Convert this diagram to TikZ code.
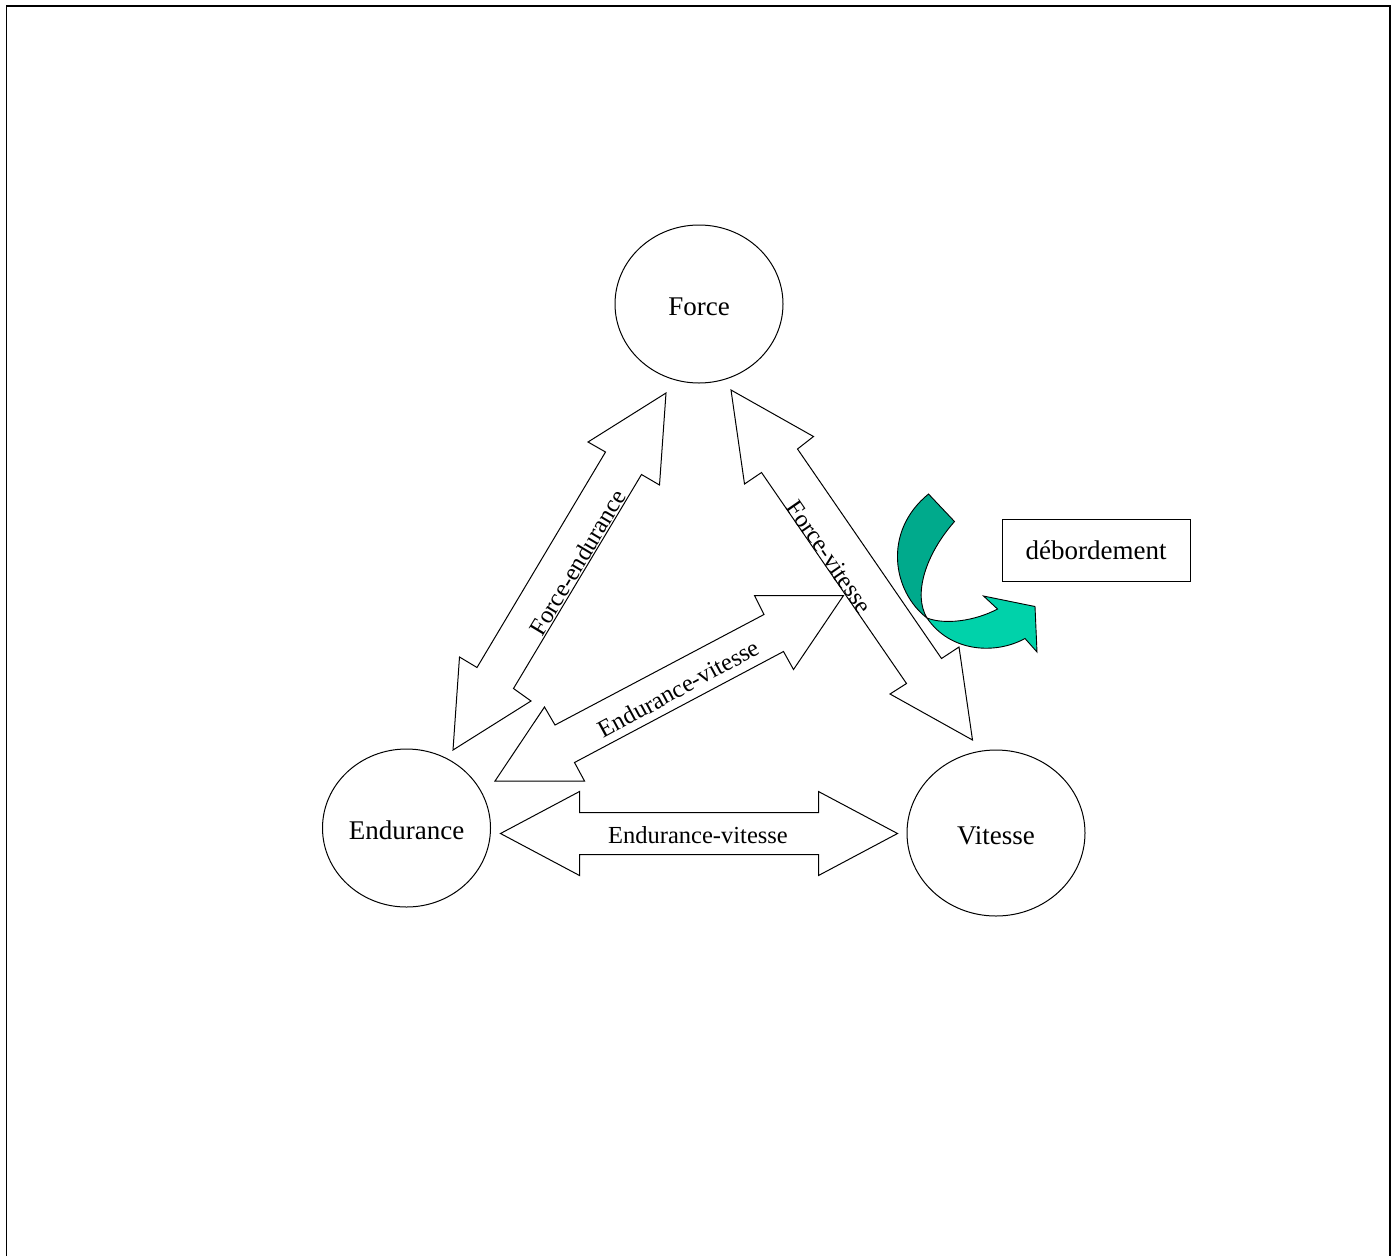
\documentclass[tikz,border=0pt]{standalone}
\usepackage{fontspec}
\setmainfont{Liberation Serif}
\usetikzlibrary{shapes.geometric}
\newcommand\lblfont{\fontsize{27}{32}\selectfont}
\newcommand\tagfont{\fontsize{24.5}{29}\selectfont}
\definecolor{ribbondark}{RGB}{0,170,140}
\definecolor{ribbonlight}{RGB}{0,210,170}
\begin{document}
\begin{tikzpicture}[x=1pt,y=-1pt,
  blockarrow/.style={draw=black, fill=white, line width=1pt, line join=miter},
  bubble/.style={ellipse, draw, line width=1pt, inner sep=0pt, font=\lblfont,
                 text height=22pt, text depth=0pt},
  tagtext/.style={inner sep=0pt, font=\tagfont},
  ribbon/.style={draw=black, line width=0.9pt, line join=miter}]
\useasboundingbox (0,0) rectangle (1399,1256);

% page frame (open at the bottom)
\draw[line width=1.6pt] (6.5,1256) -- (6.5,6) -- (1390,6) -- (1390,1256);

% the three qualities
\node[bubble, minimum width=168pt, minimum height=158pt] (force) at (699,304) {Force};
\node[bubble, minimum width=168pt, minimum height=158pt] (endu) at (406.5,828) {Endurance};
\node[bubble, minimum width=178pt, minimum height=166pt] (vit) at (996,833) {Vitesse};

% side note
\node[draw, line width=1pt, minimum width=188pt, minimum height=62pt, inner sep=0pt,
      font=\lblfont] (debord) at (1096,550.5) {débordement};

% Force <-> Endurance
\draw[blockarrow] (666,393) -- (659.5,485) -- (641.5,474.5) -- (513.5,688.5)
  -- (531,701) -- (453,750) -- (459.5,657) -- (477,667.5) -- (605.5,452) -- (588,442) -- cycle;

% Force <-> Vitesse
\draw[blockarrow] (731,390) -- (813.5,436.5) -- (797.5,449) -- (941.5,658.5)
  -- (959,647) -- (972.5,740) -- (890,694) -- (906.5,683.5) -- (761.5,472.5) -- (744.5,484) -- cycle;

% Endurance <-> Vitesse (diagonal)
\draw[blockarrow] (843.5,595.5) -- (793.5,669.5) -- (783.5,651.5) -- (574.5,762.5)
  -- (584.5,781) -- (495,781) -- (544.5,707) -- (555,725) -- (764,614.5) -- (754.5,595.5) -- cycle;

% Endurance <-> Vitesse (horizontal)
\draw[blockarrow] (500.5,833.5) -- (579.5,791.5) -- (579.5,812.5) -- (818.5,812.5)
  -- (818.5,791.5) -- (897.5,833.5) -- (818.5,875.5) -- (818.5,854.5) -- (579.5,854.5) -- (579.5,875.5) -- cycle;

% labels on the block arrows, set on top of all arrows
\node[tagtext, rotate=59] (fe) at (577.5,562.5) {Force-endurance};
\node[tagtext, rotate=-55.4] (fv) at (829.5,557) {Force-vitesse};
\node[tagtext, rotate=28.5] (ev1) at (678.5,688.5) {Endurance-vitesse};
\node[tagtext] (ev2) at (698,835) {Endurance-vitesse};

% curved ribbon arrow: back face, then front face with the head
\coordinate (twist) at (927,618);
\filldraw[ribbon, fill=ribbondark] (928.5,494) -- (954.5,521.5)
  .. controls (925,555) and (913,595) .. (twist)
  .. controls (893,592) and (882,532) .. cycle;
\filldraw[ribbon, fill=ribbonlight] (twist)
  .. controls (945,625) and (975,621) .. (997.5,609)
  -- (983.5,596) -- (1035,606.5) -- (1037,652) -- (1025,638.5)
  .. controls (995,655) and (950,652) .. cycle;
\end{tikzpicture}
\end{document}
